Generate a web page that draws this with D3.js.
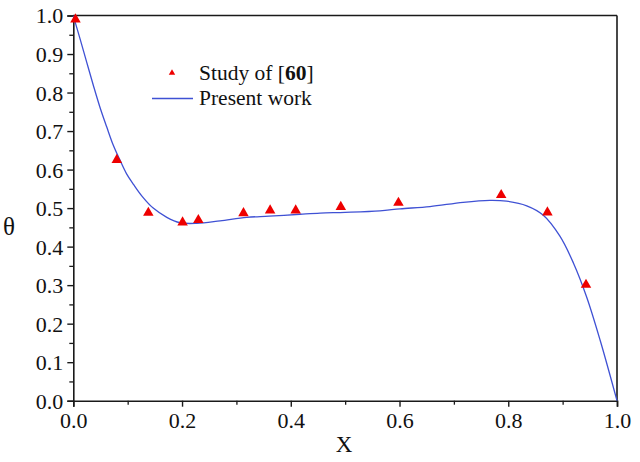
<!DOCTYPE html>
<html>
<head>
<meta charset="utf-8">
<script src="https://cdn.jsdelivr.net/npm/d3@7"></script>
<style>
  body { margin: 0; background: #fff; }
</style>
</head>
<body>
<div id="chart"></div>
<script>
// Study of [60] (triangles)
const studyX = [0.004, 0.080, 0.138, 0.201, 0.230, 0.313, 0.362, 0.409, 0.492, 0.598, 0.787, 0.872, 0.943];
const studyY = [0.990, 0.625, 0.488, 0.463, 0.469, 0.487, 0.494, 0.494, 0.503, 0.514, 0.534, 0.489, 0.301];

// Present work (line)
const workX = [0, 0.0123, 0.0246, 0.0368, 0.049, 0.0614, 0.0736, 0.086, 0.098, 0.111, 0.127, 0.147, 0.172, 0.196, 0.227, 0.27, 0.319, 0.36, 0.417, 0.454, 0.5, 0.564, 0.601, 0.656, 0.717, 0.766, 0.797, 0.834, 0.864, 0.895, 0.92, 0.944, 0.969, 1.0];
const workY = [0.999, 0.940, 0.879, 0.819, 0.762, 0.711, 0.663, 0.624, 0.589, 0.561, 0.530, 0.500, 0.476, 0.462, 0.4605, 0.467, 0.476, 0.479, 0.484, 0.487, 0.489, 0.493, 0.498, 0.504, 0.515, 0.520, 0.518, 0.506, 0.482, 0.427, 0.357, 0.270, 0.157, 0];

const xTicks = [0, 0.2, 0.4, 0.6, 0.8, 1.0];
const yTicks = [0, 0.1, 0.2, 0.3, 0.4, 0.5, 0.6, 0.7, 0.8, 0.9, 1.0];

const W = 640, H = 462;
const margin = { top: 15.5, right: 23, bottom: 61.3, left: 73.3 };
const width = W - margin.left - margin.right;
const height = H - margin.top - margin.bottom;

const serif = "Liberation Serif, DejaVu Serif, serif";

const svg = d3.select("#chart").append("svg")
    .attr("width", W)
    .attr("height", H);

const g = svg.append("g")
    .attr("transform", `translate(${margin.left},${margin.top})`);

const x = d3.scaleLinear().domain([0, 1]).range([0, width]);
const y = d3.scaleLinear().domain([0, 1]).range([height, 0]);

const axisColor = "#1a1a1a";

// minor ticks
g.append("g")
    .attr("transform", `translate(0,${height})`)
    .call(d3.axisBottom(x).tickValues(d3.range(0.1, 1, 0.2)).tickSize(4).tickFormat(""))
    .call(a => a.select(".domain").remove())
    .selectAll("line").attr("stroke", axisColor).attr("stroke-width", 1.3);

g.append("g")
    .call(d3.axisLeft(y).tickValues(d3.range(0.05, 1, 0.1)).tickSize(4).tickFormat(""))
    .call(a => a.select(".domain").remove())
    .selectAll("line").attr("stroke", axisColor).attr("stroke-width", 1.3);

// major axes
const xAxis = g.append("g")
    .attr("transform", `translate(0,${height})`)
    .call(d3.axisBottom(x).tickValues(xTicks).tickSize(6).tickPadding(6).tickFormat(d3.format(".1f")));

const yAxis = g.append("g")
    .call(d3.axisLeft(y).tickValues(yTicks).tickSize(6).tickPadding(4).tickFormat(d3.format(".1f")));

[xAxis, yAxis].forEach(a => {
    a.attr("font-family", serif).attr("font-size", 22);
    a.select(".domain").attr("stroke", axisColor).attr("stroke-width", 1.6);
    a.selectAll("line").attr("stroke", axisColor).attr("stroke-width", 1.4);
    a.selectAll("text").attr("fill", "#111");
});
yAxis.selectAll("text").attr("dy", "0.34em");

// top and right border
g.append("line").attr("x1", 0).attr("x2", width).attr("y1", 0).attr("y2", 0)
    .attr("stroke", axisColor).attr("stroke-width", 1.6);
g.append("line").attr("x1", width).attr("x2", width).attr("y1", 0).attr("y2", height)
    .attr("stroke", axisColor).attr("stroke-width", 1.6);

// axis titles
svg.append("text")
    .attr("x", margin.left + width / 2 - 1)
    .attr("y", 452)
    .attr("text-anchor", "middle")
    .attr("font-family", serif)
    .attr("font-size", 23)
    .attr("fill", "#111")
    .text("X");

svg.append("text")
    .attr("x", 9)
    .attr("y", 235)
    .attr("text-anchor", "middle")
    .attr("font-family", serif)
    .attr("font-size", 25)
    .attr("fill", "#111")
    .text("θ");

// line
const lineData = workX.map((v, i) => [v, workY[i]]);
g.append("path")
    .datum(lineData)
    .attr("fill", "none")
    .attr("stroke", "#3f51d4")
    .attr("stroke-width", 1.3)
    .attr("d", d3.line()
        .x(d => x(d[0]))
        .y(d => y(d[1]))
        .curve(d3.curveCatmullRom.alpha(0.5)));

// triangles
const tri = d3.symbol().type(d3.symbolTriangle).size(48);
g.selectAll(".pt")
    .data(studyX.map((v, i) => [v, studyY[i]]))
    .enter().append("path")
    .attr("class", "pt")
    .attr("d", tri)
    .attr("transform", d => `translate(${x(d[0])},${y(d[1])})`)
    .attr("fill", "#ee0000");

// legend
const legend = svg.append("g")
    .attr("font-family", serif)
    .attr("font-size", 21.5);
legend.append("path")
    .attr("d", d3.symbol().type(d3.symbolTriangle).size(18))
    .attr("transform", "translate(172,73)")
    .attr("fill", "#ee0000");
const t1 = legend.append("text")
    .attr("x", 199)
    .attr("y", 80)
    .attr("fill", "#111");
t1.append("tspan").text("Study of [");
t1.append("tspan").attr("font-weight", "bold").text("60");
t1.append("tspan").text("]");

legend.append("line")
    .attr("x1", 152).attr("x2", 193)
    .attr("y1", 98.5).attr("y2", 98.5)
    .attr("stroke", "#3f51d4")
    .attr("stroke-width", 1.3);
legend.append("text")
    .attr("x", 199)
    .attr("y", 105)
    .attr("fill", "#111")
    .text("Present work");
</script>
</body>
</html>
